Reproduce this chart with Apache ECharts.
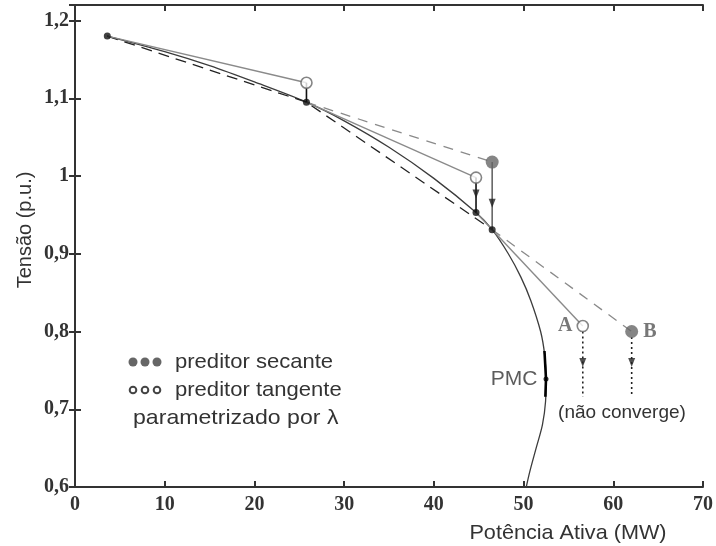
<!DOCTYPE html>
<html><head><meta charset="utf-8">
<script src="https://cdn.jsdelivr.net/npm/echarts@6/dist/echarts.min.js"></script>
<style>html,body{margin:0;padding:0;background:#fff}#c{width:716px;height:546px}</style>
</head><body><div id="c"></div>
<script>
// ---- data (P in MW, V in p.u.) ----
const xTicks = [0, 10, 20, 30, 40, 50, 60, 70];
const yTicks = [0.6, 0.7, 0.8, 0.9, 1.0, 1.1, 1.2];
const pvCurve = [[3.6,1.180],[10,1.160],[15,1.142],[20,1.121],[25.8,1.095],[30,1.071],[35,1.037],[40,0.997],[44.7,0.953],[46.5,0.931],[48.3,0.900],[49.7,0.870],[50.8,0.840],[51.9,0.800],[52.35,0.770],[52.5,0.739],[52.45,0.710],[52.1,0.680],[51.4,0.650],[50.7,0.620],[50.3,0.600]];
const pmcSegment = [[52.33,0.775],[52.5,0.739],[52.43,0.716]];
const pmcPoint = [[52.5,0.739]];
const chords = [[3.6,1.18],[25.8,1.095],[46.5,0.931]];
const secantPred1 = [[25.8,1.095],[46.5,1.018]];
const secantPred2 = [[46.5,0.931],[62.05,0.800]];
const tangentPred1 = [[3.6,1.18],[25.8,1.12]];
const tangentPred2 = [[25.8,1.095],[44.7,0.998]];
const tangentPred3 = [[44.7,0.953],[56.6,0.807]];
const corr1 = [[25.8,1.12],[25.8,1.095]];
const corr2 = [[44.7,0.998],[44.7,0.953]];
const corr3 = [[46.5,1.018],[46.5,0.931]];
const divA = [[56.6,0.800],[56.6,0.716]];
const divB = [[62.05,0.793],[62.05,0.716]];
const arrowHeads = [[44.7,0.977],[46.5,0.965],[56.6,0.760],[62.05,0.760]];
const convergedPts = [[3.6,1.18],[25.8,1.095],[44.7,0.953],[46.5,0.931]];
const tangentPts = [[25.8,1.12],[44.7,0.998]];
const pointA = [[56.6,0.807]];
const secantPts = [[46.5,1.018]];
const pointB = [[62.05,0.800]];

const fmt = v => { const r = Math.round(v*10)/10; return String(r).replace('.', ','); };
const tickFont = {fontFamily:'Liberation Serif', fontWeight:'bold', fontSize:20, color:'#333'};
const axisLine = {show:true, lineStyle:{color:'#333', width:2}};
const axisTick = {show:true, inside:true, length:6, lineStyle:{color:'#333', width:2}};

function lineSeries(data, color, width, type, z) {
  return {type:'line', data, symbol:'none', silent:true, z:z||2,
    lineStyle:{color, width, type: type||'solid'}};
}

const chart = echarts.init(document.getElementById('c'), null, {renderer:'canvas'});
chart.setOption({
  animation:false,
  grid:{left:75, right:8, top:5, bottom:59, show:false},
  xAxis:[
    {type:'value', min:0, max:70, interval:10, position:'bottom', axisLine, axisTick,
     splitLine:{show:false}, axisLabel:{...tickFont, margin:8, formatter:v=>String(v)}},
    {type:'value', min:0, max:70, interval:10, position:'top', axisLine, axisTick,
     splitLine:{show:false}, axisLabel:{show:false}}
  ],
  yAxis:[
    {type:'value', min:0.6, max:1.22, interval:0.1, position:'left', axisLine, axisTick,
     splitLine:{show:false}, axisLabel:{...tickFont, margin:6, showMaxLabel:false, formatter:fmt}},
    {type:'value', min:0.6, max:1.22, interval:0.1, position:'right', axisLine, axisTick,
     splitLine:{show:false}, axisLabel:{show:false}}
  ],
  series:[
    {...lineSeries(pvCurve, '#3c3c3c', 1.3), smooth:0.3},
    lineSeries(chords, '#222', 1.3, [11,7]),
    lineSeries(secantPred1, '#8a8a8a', 1.3, [10,8]),
    lineSeries(secantPred2, '#8a8a8a', 1.3, [10,8]),
    lineSeries(tangentPred1, '#8a8a8a', 1.4),
    lineSeries(tangentPred2, '#8a8a8a', 1.4),
    lineSeries(tangentPred3, '#8a8a8a', 1.4),
    lineSeries(corr1, '#111', 1.6),
    lineSeries(corr2, '#111', 1.6),
    lineSeries(corr3, '#666', 1.6),
    lineSeries(divA, '#222', 1.6, [2,3]),
    lineSeries(divB, '#222', 1.6, [2,3]),
    lineSeries(pmcSegment, '#000', 2.6, 'solid', 3),
    {type:'scatter', data:arrowHeads, symbol:'triangle', symbolSize:[7,9], symbolRotate:180,
     itemStyle:{color:'#222'}, z:4, silent:true},
    {type:'scatter', data:convergedPts, symbol:'circle', symbolSize:7,
     itemStyle:{color:'#111'}, z:5, silent:true},
    {type:'scatter', data:tangentPts, symbol:'circle', symbolSize:11,
     itemStyle:{color:'#fff', borderColor:'#666', borderWidth:1.6}, z:5, silent:true},
    {type:'scatter', data:pointA, symbol:'circle', symbolSize:11,
     itemStyle:{color:'#fff', borderColor:'#666', borderWidth:1.6}, z:5, silent:true,
     label:{show:true, position:'left', distance:4, formatter:'A',
       fontFamily:'Liberation Serif', fontWeight:'bold', fontSize:20, color:'#555'}},
    {type:'scatter', data:secantPts, symbol:'circle', symbolSize:13,
     itemStyle:{color:'#666'}, z:5, silent:true},
    {type:'scatter', data:pointB, symbol:'circle', symbolSize:13,
     itemStyle:{color:'#666'}, z:5, silent:true,
     label:{show:true, position:'right', distance:5, formatter:'B',
       fontFamily:'Liberation Serif', fontWeight:'bold', fontSize:20, color:'#555'}},
    {type:'scatter', data:pmcPoint, symbol:'circle', symbolSize:5,
     itemStyle:{color:'#000'}, z:5, silent:true,
     label:{show:true, position:'left', distance:6, formatter:'PMC',
       fontFamily:'Liberation Sans', fontSize:21, color:'#333'}}
  ],
  graphic:[
    {type:'text', x:568, y:533, scaleX:1.03, style:{text:'Potência Ativa (MW)', fill:'#333',
      font:'21px "Liberation Sans"', textAlign:'center', textVerticalAlign:'middle'}},
    {type:'text', x:25, y:230, rotation:Math.PI/2, style:{text:'Tensão (p.u.)', fill:'#333',
      font:'20px "Liberation Sans"', textAlign:'center', textVerticalAlign:'middle'}},
    {type:'circle', shape:{cx:133, cy:362, r:4.5}, style:{fill:'#666'}},
    {type:'circle', shape:{cx:145, cy:362, r:4.5}, style:{fill:'#666'}},
    {type:'circle', shape:{cx:157, cy:362, r:4.5}, style:{fill:'#666'}},
    {type:'circle', shape:{cx:133, cy:390, r:3.3}, style:{fill:'#fff', stroke:'#444', lineWidth:2}},
    {type:'circle', shape:{cx:145, cy:390, r:3.3}, style:{fill:'#fff', stroke:'#444', lineWidth:2}},
    {type:'circle', shape:{cx:157, cy:390, r:3.3}, style:{fill:'#fff', stroke:'#444', lineWidth:2}},
    {type:'text', x:175, y:362, scaleX:1.05, style:{text:'preditor secante', fill:'#333',
      font:'21px "Liberation Sans"', textVerticalAlign:'middle'}},
    {type:'text', x:175, y:390, scaleX:1.05, style:{text:'preditor tangente', fill:'#333',
      font:'21px "Liberation Sans"', textVerticalAlign:'middle'}},
    {type:'text', x:133, y:418, scaleX:1.1, style:{text:'parametrizado por λ', fill:'#333',
      font:'21px "Liberation Sans"', textVerticalAlign:'middle'}},
    {type:'text', x:622, y:413, style:{text:'(não converge)', fill:'#333',
      font:'19px "Liberation Sans"', textAlign:'center', textVerticalAlign:'middle'}}
  ]
});
</script>
</body></html>
